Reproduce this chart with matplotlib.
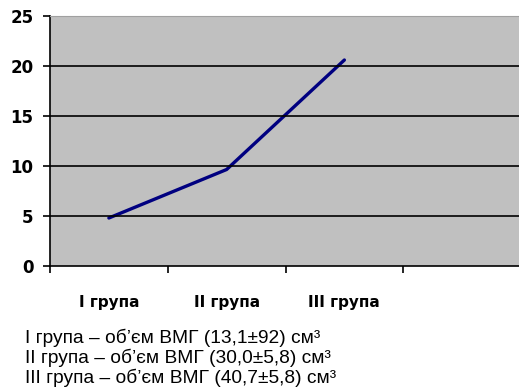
import matplotlib.pyplot as plt
from matplotlib.ticker import FixedLocator

groups = ["I група", "II група", "III група"]
values = [4.8, 9.65, 20.6]
y_ticks = [0, 5, 10, 15, 20, 25]
notes = [
    "I група – об’єм ВМГ (13,1±92) см³",
    "II група – об’єм ВМГ (30,0±5,8) см³",
    "III група – об’єм ВМГ (40,7±5,8) см³",
]

W, H = 519, 391
fig = plt.figure(figsize=(W / 100, H / 100), dpi=100)
ax = fig.add_axes([50 / W, (H - 266) / H, 471 / W, 250 / H])
ax.set_facecolor("#c0c0c0")

x = list(range(len(groups)))
ax.plot(x, values, color="#000080", lw=2.4, solid_capstyle="round")

ax.set_xlim(-0.5, 3.5)
ax.set_ylim(0, 25)
ax.set_yticks(y_ticks)
for v in y_ticks[1:-1]:
    ax.axhline(v, color="black", lw=1.2)

ax.xaxis.set_major_locator(FixedLocator([-0.5, 0.5, 1.5, 2.5]))
ax.xaxis.set_major_formatter(plt.NullFormatter())
ax.xaxis.set_minor_locator(FixedLocator(x))
ax.set_xticklabels(groups, minor=True)
ax.tick_params(axis="x", which="major", length=5, width=1.2, direction="out")
ax.tick_params(axis="x", which="minor", length=0, pad=21)
ax.tick_params(axis="y", length=5, width=1.2, direction="out", pad=7)
for lab in ax.get_xticklabels(minor=True):
    lab.set_fontweight("bold")
    lab.set_fontsize(11)
for lab in ax.get_yticklabels():
    lab.set_fontweight("bold")
    lab.set_fontsize(12)

ax.spines["top"].set_color("#a0a0a0")
ax.spines["right"].set_visible(False)
ax.spines["left"].set_linewidth(1.2)
ax.spines["bottom"].set_linewidth(1.2)

for i, t in enumerate(notes):
    fig.text(25 / W, 1 - (343 + 20 * i) / H, t, fontsize=13.8,
             family="Liberation Sans", va="baseline", ha="left")

fig.savefig("out.png", dpi=100)
